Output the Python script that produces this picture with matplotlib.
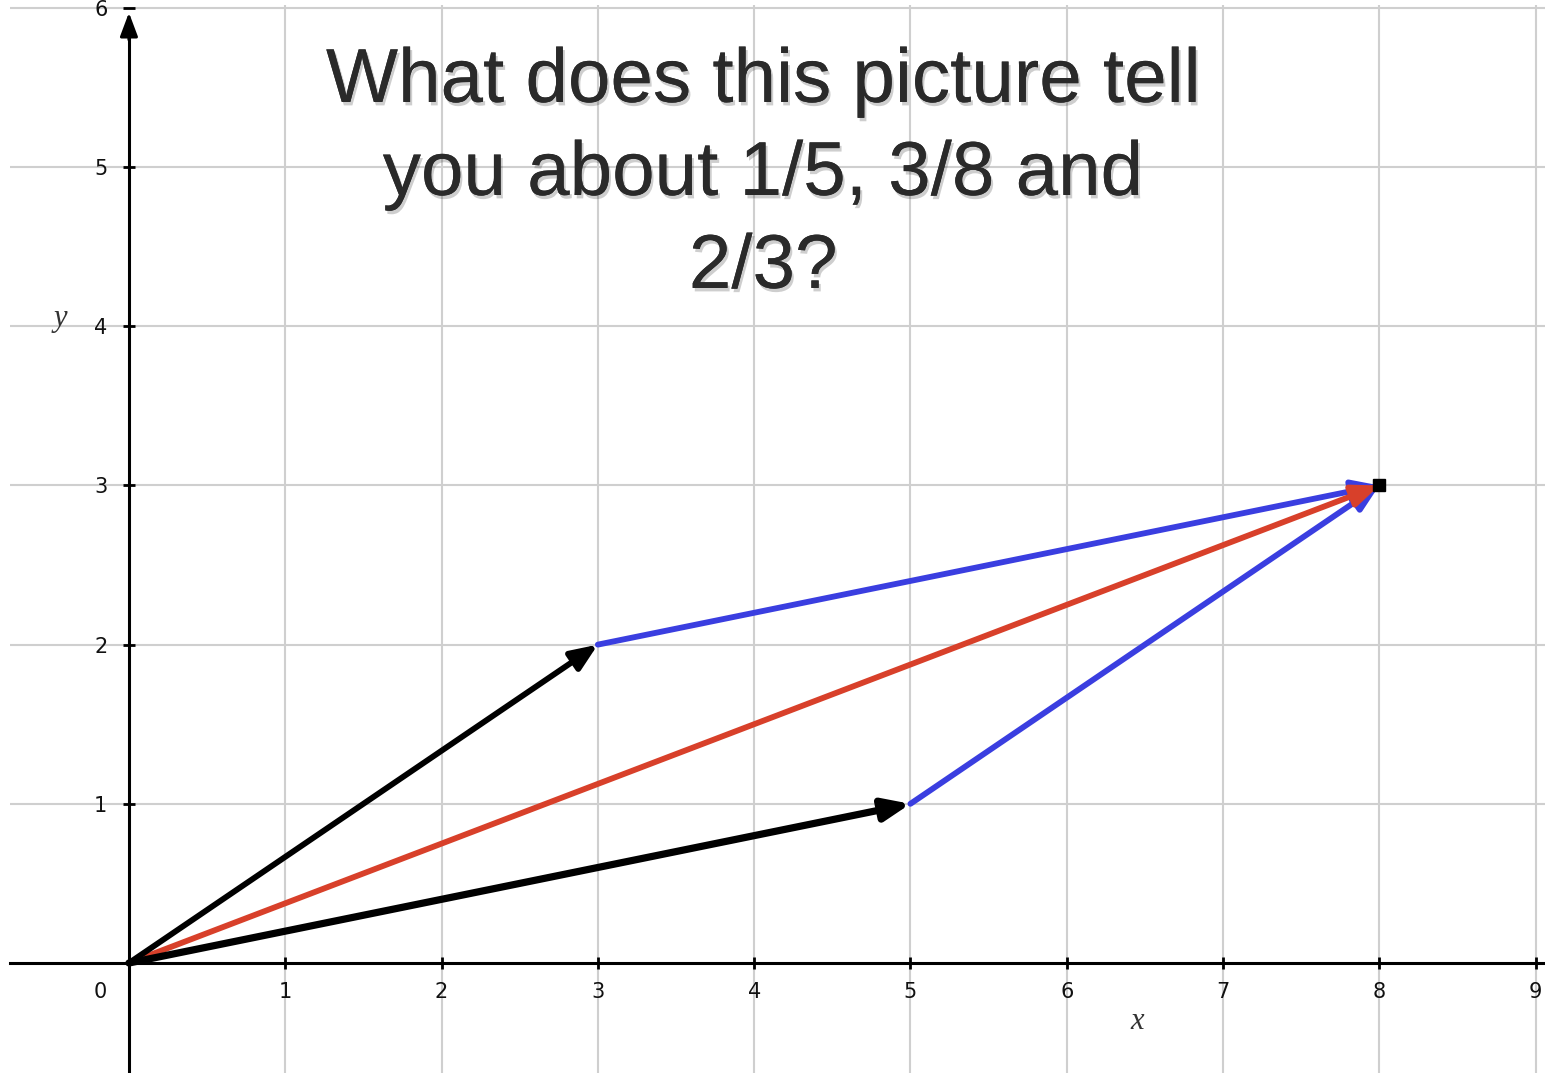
import matplotlib
matplotlib.use('Agg')
import matplotlib.pyplot as plt
import matplotlib.patheffects as pe

# vectors: two black ones from the origin, blue ones completing the parallelogram,
# red one is the sum
vec_a = (3, 2)
vec_b = (5, 1)
vec_sum = (vec_a[0] + vec_b[0], vec_a[1] + vec_b[1])

x_ticks = [1, 2, 3, 4, 5, 6, 7, 8, 9]
y_ticks = [1, 2, 3, 4, 5, 6]
title = 'What does this picture tell\nyou about 1/5, 3/8 and\n2/3?'

BLACK = '#000000'
BLUE = '#3a3ee0'
RED = '#d8402a'
GRID = '#cfcfcf'

fig = plt.figure(figsize=(15.45, 10.73), dpi=100)
ax = fig.add_axes([10 / 1545, 0, 1535 / 1545, 1068 / 1073])
ax.set_xlim(-0.761, 9.06)
ax.set_ylim(-0.691, 6.018)

# axes through the origin
for side in ['top', 'right']:
    ax.spines[side].set_visible(False)
ax.spines['left'].set_position('zero')
ax.spines['bottom'].set_position('zero')
ax.spines['left'].set_linewidth(2.2)
ax.spines['bottom'].set_linewidth(2.2)
ax.spines['left'].set_bounds(-0.691, 5.85)
ax.annotate('', xy=(0, 5.97), xytext=(0, 5.8),
            arrowprops=dict(arrowstyle='-|>,head_length=0.8,head_width=0.3',
                            mutation_scale=18, lw=2.2, color=BLACK,
                            shrinkA=0, shrinkB=0))

ax.set_xticks(x_ticks)
ax.set_yticks(y_ticks)
ax.tick_params(direction='inout', length=9, width=2, color=BLACK,
               labelsize=15, labelcolor='#111111')
ax.tick_params(axis='x', pad=9)
ax.tick_params(axis='y', pad=11)
for lab in ax.get_xticklabels() + ax.get_yticklabels():
    lab.set_fontfamily('DejaVu Sans')
ax.grid(True, color=GRID, lw=1.5, zorder=0)
ax.set_axisbelow(True)

ax.text(-0.186, -0.18, '0', fontsize=15, family='DejaVu Sans',
        ha='center', va='center', color='#111111')
ax.text(-0.44, 4.05, 'y', fontsize=22, family='Liberation Serif',
        style='italic', ha='center', va='center', color='#333333')
ax.text(6.45, -0.37, 'x', fontsize=22, family='Liberation Serif',
        style='italic', ha='center', va='center', color='#333333')


def arrow(start, end, color, lw=4.2):
    ax.annotate('', xy=end, xytext=start,
                arrowprops=dict(arrowstyle='-|>,head_length=0.8,head_width=0.33',
                                mutation_scale=20, lw=lw, color=color,
                                shrinkA=0, shrinkB=0), zorder=3)


origin = (0, 0)
arrow(vec_a, vec_sum, BLUE)
arrow(vec_b, vec_sum, BLUE)
arrow(origin, vec_sum, RED)
arrow(origin, vec_a, BLACK)
arrow(origin, vec_b, BLACK, lw=5.2)
ax.plot([vec_sum[0]], [vec_sum[1]], 's', color=BLACK, ms=8, zorder=4)

fig.text(0.494, 0.8365, title, ha='center', va='center', fontsize=55,
         family='Liberation Sans', color='#2a2a2a', linespacing=1.40,
         path_effects=[pe.withSimplePatchShadow(offset=(1.5, -2.5), alpha=0.2),
                       pe.Normal()])

fig.savefig('out.png', dpi=100)
